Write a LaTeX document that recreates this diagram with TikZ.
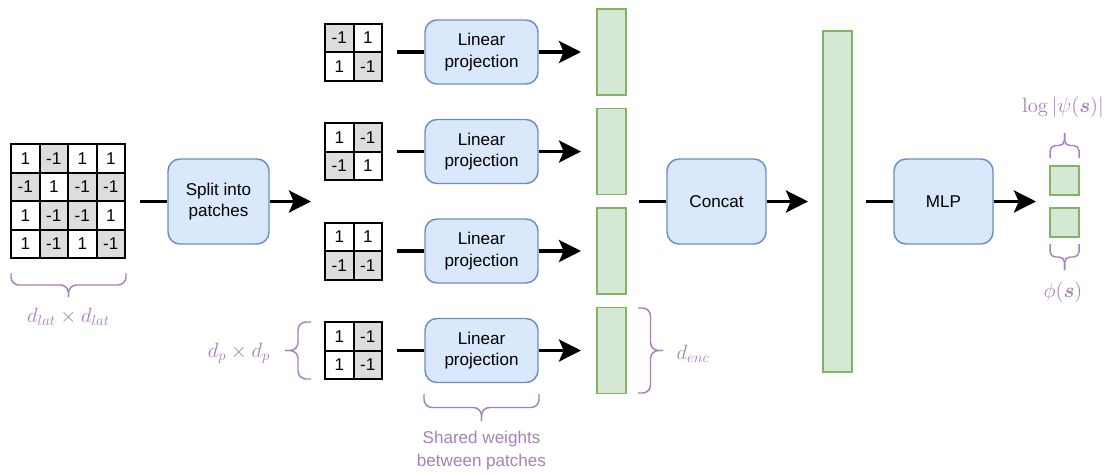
\RequirePackage{fix-cm}
\documentclass[tikz,border=0pt]{standalone}
\usepackage{amsmath}
\usepackage[no-math]{fontspec}
\setmainfont{Liberation Sans}
\usetikzlibrary{arrows.meta}
\definecolor{boxblue}{HTML}{DAE8FC}
\definecolor{lineblue}{HTML}{6C8EBF}
\definecolor{boxgreen}{HTML}{D5E8D4}
\definecolor{linegreen}{HTML}{82B366}
\definecolor{notepurple}{HTML}{A680B8}
\definecolor{cellgray}{HTML}{DDDDDD}

\begin{document}
\begin{tikzpicture}[x=0.75pt,y=-0.75pt,
  cell/.style={draw, line width=1.5pt, minimum size=21.375pt, inner sep=0pt, font=\fontsize{12.8}{15}\selectfont},
  blk/.style={draw=lineblue, fill=boxblue, line width=1.1pt, rounded corners=9pt, align=center, inner sep=0pt, font=\fontsize{12.8}{16}\selectfont},
  vec/.style={draw=linegreen, fill=boxgreen, line width=1.1pt, inner sep=0pt, minimum width=21.75pt},
  lin/.style={line width=2.5pt},
  arr/.style={line width=2.5pt, -{Stealth[length=16.5pt,width=16.5pt,inset=3.5pt]}},
  brc/.style={draw=notepurple, line width=1.1pt, rounded corners=6pt},
  lbl/.style={text=notepurple, inner sep=0pt, font=\fontsize{15.5}{18}\selectfont},
  note/.style={text=notepurple, align=center, inner sep=0pt, font=\fontsize{12.8}{17}\selectfont}]
\useasboundingbox (0,0) rectangle (1109,472);

% lattice
\foreach \vals [count=\j] in {{1,-1,1,1},{-1,1,-1,-1},{1,-1,-1,1},{1,-1,1,-1}} {
  \foreach \v [count=\i] in \vals {
    \ifnum\v<0 \def\cf{cellgray}\else\def\cf{white}\fi
    \node[cell, fill=\cf] (g\j-\i) at ({25.25+28.5*(\i-1)},{158.5+28.5*(\j-1)}) {\v};
  }
}
\draw[brc] (11,273) |- (68.5,285) -- (68.5,297);
\draw[brc] (126,273) |- (68.5,285) -- (68.5,297);
\node[lbl] (dlat) at (68.5,317) {$d_{lat} \times d_{lat}$};

\node[blk, minimum width=75.75pt, minimum height=63.75pt] (split) at (218.5,201.5) {Split into\\patches};
\coordinate (gridout) at (140,201.5);
\coordinate (splitout) at (311,201.5);
\draw[lin] (gridout) -- (split.west);
\draw[arr] (split.east) -- (splitout);

% patches
\foreach \vals [count=\r] in {{-1,1,1,-1},{1,-1,-1,1},{1,1,-1,-1},{1,-1,1,-1}} {
  \pgfmathsetmacro\py{52+99.5*(\r-1)}
  \foreach \v [count=\k] in \vals {
    \pgfmathtruncatemacro\cx{mod(\k-1,2)}
    \pgfmathtruncatemacro\cy{div(\k-1,2)}
    \ifnum\v<0 \def\cf{cellgray}\else\def\cf{white}\fi
    \node[cell, fill=\cf] (p\r-\k) at ({339.25+28.5*\cx},{\py-14.25+28.5*\cy}) {\v};
  }
  \node[blk, minimum width=84.75pt, minimum height=48pt] (lp\r) at (481.5,\py) {Linear\\projection};
  \node[vec, minimum height=64.5pt] (bar\r) at (611.5,\py) {};
  \coordinate (pin\r) at (397,\py);
  \coordinate (pout\r) at (581,\py);
  \draw[lin] (pin\r) -- (lp\r.west);
  \draw[arr] (lp\r.east) -- (pout\r);
}

\draw[brc] (311,322) -| (298,350.5) -- (285,350.5);
\draw[brc] (311,379) -| (298,350.5) -- (285,350.5);
\node[lbl] (dp) at (239,353) {$d_p \times d_p$};

\draw[brc] (638,308) -| (650.5,350.5) -- (663,350.5);
\draw[brc] (638,393) -| (650.5,350.5) -- (663,350.5);
\node[lbl] (denc) at (693,354) {$d_{enc}$};

\draw[brc] (424,394) |- (481.5,407.5) -- (481.5,421);
\draw[brc] (539,394) |- (481.5,407.5) -- (481.5,421);
\node[note] (shared) at (481.5,450.5) {Shared weights\\between patches};

% encoding and head
\node[blk, minimum width=74.25pt, minimum height=63.75pt] (concat) at (716.5,201.5) {Concat};
\node[vec, minimum height=255.75pt] (enc) at (837.5,201.5) {};
\node[blk, minimum width=74.25pt, minimum height=63.75pt] (mlp) at (943.5,201.5) {MLP};
\coordinate (catin) at (639,201.5);
\coordinate (catout) at (808,201.5);
\coordinate (mlpin) at (866,201.5);
\coordinate (mlpout) at (1036,201.5);
\draw[lin] (catin) -- (concat.west);
\draw[arr] (concat.east) -- (catout);
\draw[lin] (mlpin) -- (mlp.west);
\draw[arr] (mlp.east) -- (mlpout);

\node[vec, minimum height=21.75pt] (out1) at (1064.5,180.5) {};
\node[vec, minimum height=21.75pt] (out2) at (1064.5,222.5) {};
\draw[brc, rounded corners=4pt] (1050,158) |- (1064.5,145.5) -- (1064.5,133);
\draw[brc, rounded corners=4pt] (1079,158) |- (1064.5,145.5) -- (1064.5,133);
\node[lbl] (logpsi) at (1063,107) {$\log|\psi(\boldsymbol{s})|$};
\draw[brc, rounded corners=4pt] (1050,244) |- (1064.5,257) -- (1064.5,270);
\draw[brc, rounded corners=4pt] (1079,244) |- (1064.5,257) -- (1064.5,270);
\node[lbl] (phase) at (1063,292) {$\phi(\boldsymbol{s})$};
\end{tikzpicture}
\end{document}
